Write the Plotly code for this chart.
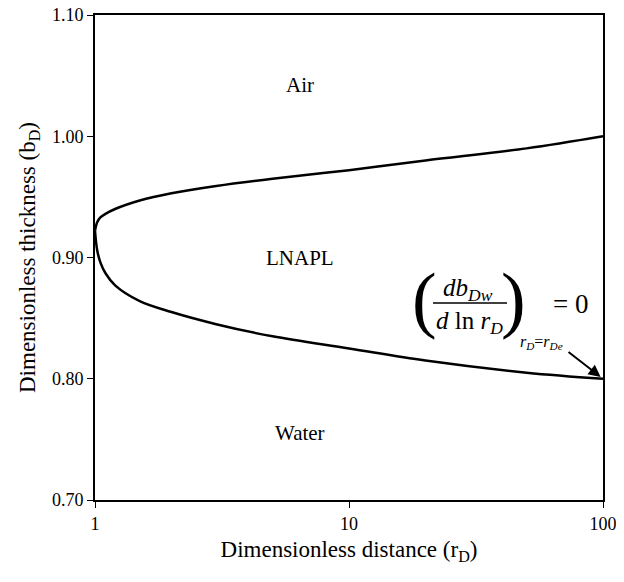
import plotly.graph_objects as go
import numpy as np

# Upper boundary (LNAPL / air)
r_upper = [1.0, 1.02, 1.05, 1.1, 1.2, 1.5, 2, 3, 5, 10, 20, 50, 100]
b_upper = [0.922, 0.929, 0.933, 0.936, 0.940, 0.947, 0.953, 0.959, 0.965, 0.972, 0.980, 0.990, 1.000]
# Lower boundary (LNAPL / water)
r_lower = [1.0, 1.02, 1.05, 1.1, 1.2, 1.5, 2, 3, 5, 10, 20, 50, 100]
b_lower = [0.922, 0.906, 0.896, 0.887, 0.877, 0.864, 0.855, 0.845, 0.835, 0.825, 0.815, 0.805, 0.800]

x_ticks = [1, 10, 100]
y_ticks = [0.70, 0.80, 0.90, 1.00, 1.10]
region_labels = ["Air", "LNAPL", "Water"]
region_y = [1.042, 0.900, 0.755]
region_x = 6.4

FONT = "Liberation Serif, Times New Roman, serif"

fig = go.Figure()
fig.add_trace(go.Scatter(x=r_upper, y=b_upper, mode="lines", line=dict(color="black", width=2.5, shape="spline"), showlegend=False))
fig.add_trace(go.Scatter(x=r_lower, y=b_lower, mode="lines", line=dict(color="black", width=2.5, shape="spline"), showlegend=False))

# page has an 8px body margin; work in page pixels and convert
OFF = 8
W, H = 616, 574
L, R, T, B = 95 - OFF, 21, 15 - OFF, 82
pw, ph = W - L - R, H - T - B

def px(x):
    return (x - OFF - L) / pw

def py(y):
    return (H - B - (y - OFF)) / ph

ann = []
for lab, yv in zip(region_labels, region_y):
    ann.append(dict(x=np.log10(region_x), y=yv, xref="x", yref="y", text=lab, showarrow=False,
                    font=dict(size=21, color="black", family=FONT)))

# formula
ann += [
    dict(x=px(424), y=py(299), text="(", font=dict(size=74, family=FONT, color="black")),
    dict(x=px(513), y=py(299), text=")", font=dict(size=74, family=FONT, color="black")),
    dict(x=px(468), y=py(289), text="<i>db</i><sub><i>Dw</i></sub>", font=dict(size=25, family=FONT, color="black")),
    dict(x=px(469), y=py(322), text="<i>d</i> ln <i>r</i><sub><i>D</i></sub>", font=dict(size=25, family=FONT, color="black")),
    dict(x=px(541), y=py(342), text="<i>r</i><sub><i>D</i></sub>=<i>r</i><sub><i>De</i></sub>", font=dict(size=16, family=FONT, color="black")),
    dict(x=px(570), y=py(304), text="= 0", font=dict(size=27, family=FONT, color="black")),
]
for a in ann[len(region_labels):]:
    a.update(xref="paper", yref="paper", showarrow=False, xanchor="center", yanchor="middle")

ann.append(dict(x=2, y=b_lower[-1], xref="x", yref="y", ax=-36, ay=-28, text="", showarrow=True,
                arrowhead=2, arrowsize=1.2, arrowwidth=2, arrowcolor="black", standoff=3))

fig.update_layout(
    width=W, height=H,
    margin=dict(l=L, r=R, t=T, b=B, autoexpand=False),
    paper_bgcolor="white", plot_bgcolor="white",
    font=dict(family=FONT, color="black", size=16),
    annotations=ann,
    shapes=[dict(type="line", xref="paper", yref="paper", x0=px(433), x1=px(507), y0=py(303), y1=py(303),
                 line=dict(color="black", width=1.5))],
    xaxis=dict(type="log", range=[0, 2], tickvals=x_ticks, ticktext=[str(v) for v in x_ticks],
               automargin=False, ticklabeloverflow="allow",
               showgrid=False, zeroline=False, showline=True, linecolor="black", linewidth=2, mirror=True,
               ticks="outside", ticklen=6, tickwidth=1, tickcolor="black",
               tickfont=dict(size=18, family=FONT),
               title=dict(text="Dimensionless distance (r<sub>D</sub>)", font=dict(size=23, family=FONT), standoff=8)),
    yaxis=dict(range=[0.70, 1.10], tickvals=y_ticks, tickformat=".2f",
               automargin=False, ticklabeloverflow="allow",
               showgrid=False, zeroline=False, showline=True, linecolor="black", linewidth=2, mirror=True,
               ticks="outside", ticklen=6, tickwidth=1, tickcolor="black",
               tickfont=dict(size=18, family=FONT),
               title=dict(text="Dimensionless thickness (b<sub>D</sub>)", font=dict(size=23, family=FONT), standoff=10)),
)

fig.write_html("out.html")
